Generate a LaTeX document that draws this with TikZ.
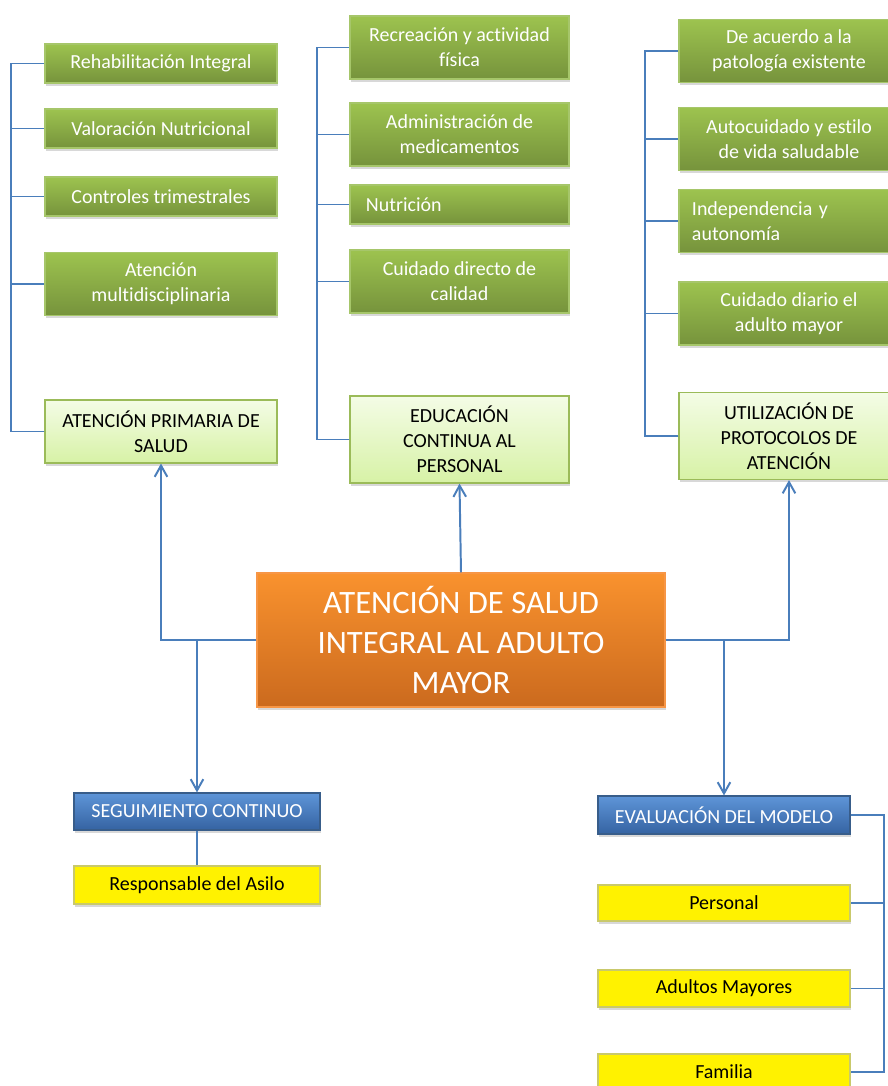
\documentclass[tikz,border=0pt]{standalone}
\usepackage{fontspec}
\setmainfont{Carlito}[Ligatures=NoCommon]
\usetikzlibrary{arrows.meta,shadows}

\definecolor{linkblue}{HTML}{4A7EBB}
\definecolor{greentop}{HTML}{9DC34F}
\definecolor{greenbot}{HTML}{76933C}
\definecolor{greenline}{HTML}{A6C66A}
\definecolor{lighttop}{HTML}{F4FCE6}
\definecolor{lightbot}{HTML}{D7F2A6}
\definecolor{lightline}{HTML}{9BBB59}
\definecolor{orangetop}{HTML}{F9922E}
\definecolor{orangebot}{HTML}{CB6A1E}
\definecolor{orangeline}{HTML}{F79646}
\definecolor{bluetop}{HTML}{5E95D8}
\definecolor{bluebot}{HTML}{3563A2}
\definecolor{blueline}{HTML}{385D8A}
\definecolor{yellowline}{HTML}{C9C96B}

\tikzset{
  box/.style={rectangle, inner sep=0pt, align=center, line width=0.8pt,
    font=\fontsize{14.2}{17.8}\selectfont,
    drop shadow={shadow xshift=0.6pt, shadow yshift=-2pt, opacity=0.3}},
  greenbox/.style={box, draw=greenline, top color=greentop, bottom color=greenbot, text=white},
  lightbox/.style={box, draw=lightline, top color=lighttop, bottom color=lightbot, text=black},
  corebox/.style={box, draw=orangeline, top color=orangetop, bottom color=orangebot, text=white,
    font=\fontsize{23.2}{28.5}\selectfont},
  bluebox/.style={box, draw=blueline, top color=bluetop, bottom color=bluebot, text=white},
  yellowbox/.style={box, draw=yellowline, fill=yellow, text=black},
  colA/.style={minimum width=5.8cm},
  colB/.style={minimum width=5.475cm},
  colC/.style={minimum width=5.5cm},
  low/.style={minimum height=0.975cm},
  mid/.style={minimum height=1.575cm},
  tall/.style={minimum height=2.175cm},
  link/.style={draw=linkblue, line width=1.4pt},
  arrowlink/.style={link, -{Straight Barb[length=8pt,width=9pt]}}
}

\begin{document}
\begin{tikzpicture}[x=0.025cm, y=-0.025cm]
\clip (0,0) rectangle (888,1086);
\fill[white] (0,0) rectangle (888,1086);

% primera columna
\node[greenbox, colA, low] (rehab) at (161, 63.5) {Rehabilitación Integral};
\node[greenbox, colA, low] (valor) at (161, 128.5) {Valoración Nutricional};
\node[greenbox, colA, low] (control) at (161, 196.5) {Controles trimestrales};
\node[greenbox, colA, mid] (multi) at (161, 284) {Atención\\multidisciplinaria};
\node[lightbox, colA, mid] (aps) at (161, 431.5) {ATENCIÓN PRIMARIA DE\\SALUD};

% segunda columna
\node[greenbox, colB, mid] (recre) at (459.5, 47.5) {Recreación y actividad\\física};
\node[greenbox, colB, mid] (admin) at (459.5, 134.5) {Administración de\\medicamentos};
\node[greenbox, colB, low, align=left, text width=4.675cm, inner xsep=0.4cm] (nutri) at (459.5, 204.5) {Nutrición};
\node[greenbox, colB, mid] (cuid) at (459.5, 281.5) {Cuidado directo de\\calidad};
\node[lightbox, colB, tall] (edu) at (459.5, 439.5) {EDUCACIÓN\\CONTINUA AL\\PERSONAL};

% tercera columna
\node[greenbox, colC, mid] (acuerdo) at (789, 51) {De acuerdo a la\\patología existente};
\node[greenbox, colC, mid] (auto) at (789, 139) {Autocuidado y estilo\\de vida saludable};
\node[greenbox, colC, mid, align=left, text width=4.85cm, inner xsep=0.325cm] (indep) at (789, 221) {Independencia y\\autonomía};
\node[greenbox, colC, mid] (diario) at (789, 313.5) {Cuidado diario el\\adulto mayor};
\node[lightbox, colC, tall] (utl) at (789, 436) {UTILIZACIÓN DE\\PROTOCOLOS DE\\ATENCIÓN};

% centro
\node[corebox, minimum width=10.2cm, minimum height=3.35cm] (core) at (461, 640) {ATENCIÓN DE SALUD\\INTEGRAL AL ADULTO\\MAYOR};

% abajo
\node[bluebox, minimum width=6.15cm, minimum height=0.925cm] (seg) at (197, 811.5) {SEGUIMIENTO CONTINUO};
\node[yellowbox, minimum width=6.15cm, minimum height=0.95cm] (resp) at (197, 885) {Responsable del Asilo};
\node[bluebox, minimum width=6.3cm, minimum height=0.95cm] (eval) at (724, 815) {EVALUACIÓN DEL MODELO};
\node[yellowbox, minimum width=6.3cm, minimum height=0.9cm] (pers) at (724, 903) {Personal};
\node[yellowbox, minimum width=6.3cm, minimum height=0.925cm] (adult) at (724, 988.5) {Adultos Mayores};
\node[yellowbox, minimum width=6.3cm, minimum height=0.9cm] (fam) at (724, 1072) {Familia};

% conectores
\draw[link] (aps.west) -- ++(-33,0) |- (rehab.west);
\draw[link] (aps.west) -- ++(-33,0) |- (valor.west);
\draw[link] (aps.west) -- ++(-33,0) |- (control.west);
\draw[link] (aps.west) -- ++(-33,0) |- (multi.west);
\draw[link] (edu.west) -- ++(-32,0) |- (recre.west);
\draw[link] (edu.west) -- ++(-32,0) |- (admin.west);
\draw[link] (edu.west) -- ++(-32,0) |- (nutri.west);
\draw[link] (edu.west) -- ++(-32,0) |- (cuid.west);
\draw[link] (utl.west) -- ++(-33,0) |- (acuerdo.west);
\draw[link] (utl.west) -- ++(-33,0) |- (auto.west);
\draw[link] (utl.west) -- ++(-33,0) |- (indep.west);
\draw[link] (utl.west) -- ++(-33,0) |- (diario.west);
\draw[arrowlink] (core.west) -| (aps.south);
\draw[arrowlink] (core.west) -| (seg.north);
\draw[arrowlink] (core.north) -- (edu.south);
\draw[arrowlink] (core.east) -| (utl.south);
\draw[arrowlink] (core.east) -| (eval.north);
\draw[link] (seg.south) -- (resp.north);
\draw[link] (eval.east) -- ++(33,0) |- (pers.east);
\draw[link] (eval.east) -- ++(33,0) |- (adult.east);
\draw[link] (eval.east) -- ++(33,0) |- (fam.east);
\end{tikzpicture}
\end{document}
